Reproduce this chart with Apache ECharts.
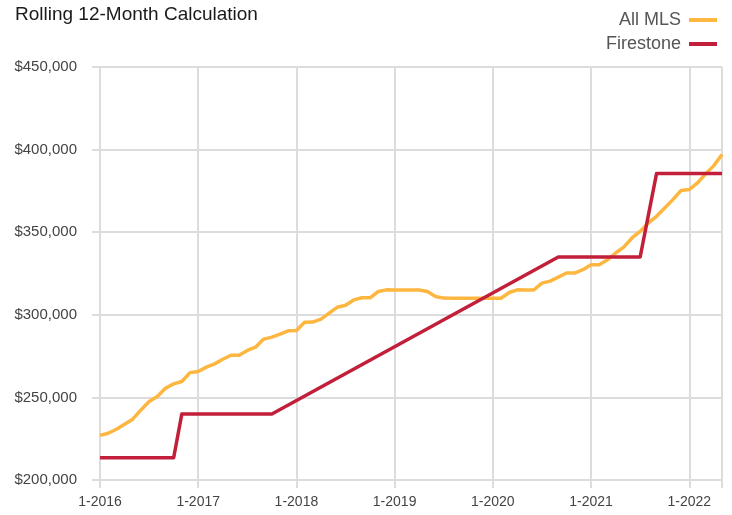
<!DOCTYPE html>
<html>
<head>
<meta charset="utf-8">
<script src="https://cdn.jsdelivr.net/npm/echarts@6/dist/echarts.min.js"></script>
<style>
html,body{margin:0;padding:0;background:#fff;}
#chart{width:732px;height:515px;}
</style>
</head>
<body>
<div id="chart"></div>
<script>
// Month index 0 = Jan 2016 ... 76 = May 2022
var xTickLabels = ['1-2016','1-2017','1-2018','1-2019','1-2020','1-2021','1-2022'];
var seriesNames = ['All MLS', 'Firestone'];

var mlsValues = [
  227000, 228300, 230700, 233700, 236800, 242400, 247500, 250500, 255500, 258200, 259600, 265000,
  265700, 268300, 270300, 273100, 275500, 275500, 278400, 280400, 285300, 286500, 288300, 290300,
  290500, 295500, 295600, 297400, 301000, 304600, 305800, 309000, 310300, 310300, 314100, 315100,
  315000, 315000, 315000, 315000, 314100, 311100, 310100, 310000, 310000, 310000, 310000, 310000,
  310000, 310000, 313500, 315100, 315000, 315000, 319200, 320400, 322800, 325300, 325300, 327300,
  330300, 330300, 333300, 337400, 341000, 346500, 350500, 355600, 359600, 364600, 369700, 375300,
  375800, 379800, 385300, 390300, 397000
];

var firestoneMonths = [0, 9, 10, 21, 56, 66, 68, 76];
var firestoneValues = [213500, 213500, 240000, 240000, 335000, 335000, 385500, 385500];

var FONT = '"Liberation Sans", Arial, sans-serif';
var gridColor = '#dcdcdc';

var chart = echarts.init(document.getElementById('chart'), null, {renderer: 'canvas'});
chart.setOption({
  animation: false,
  backgroundColor: '#ffffff',
  title: {
    text: 'Rolling 12-Month Calculation',
    left: 10,
    top: 0,
    textStyle: {fontFamily: FONT, fontSize: 19, fontWeight: 'normal', color: '#1a1a1a'}
  },
  legend: {
    orient: 'vertical',
    right: 10,
    top: 6,
    align: 'right',
    itemGap: 6,
    itemWidth: 28,
    itemHeight: 4,
    icon: 'rect',
    textStyle: {fontFamily: FONT, fontSize: 18, color: '#555555', padding: [0, 3, 0, 0]},
    data: seriesNames
  },
  grid: {left: 100, right: 10, top: 67, bottom: 35, containLabel: false},
  xAxis: {
    type: 'value',
    min: 0,
    max: mlsValues.length - 1,
    interval: 12,
    axisLine: {show: false},
    axisTick: {show: true, length: 8, lineStyle: {color: gridColor, width: 2}},
    splitLine: {show: true, lineStyle: {color: gridColor, width: 2}},
    axisLabel: {
      margin: 15,
      fontFamily: FONT, fontSize: 14, color: '#444444',
      formatter: function (v) { return (v % 12 === 0) ? (xTickLabels[v / 12] || '') : ''; }
    }
  },
  yAxis: {
    type: 'value',
    min: 200000,
    max: 450000,
    interval: 50000,
    axisLine: {show: false},
    axisTick: {show: true, length: 8, lineStyle: {color: gridColor, width: 2}},
    splitLine: {show: true, lineStyle: {color: gridColor, width: 2}},
    axisLabel: {
      margin: 23,
      fontFamily: FONT, fontSize: 15, color: '#444444',
      formatter: function (v) { return '$' + v.toLocaleString('en-US'); }
    }
  },
  series: [
    {
      name: seriesNames[0],
      type: 'line',
      symbol: 'none',
      color: '#FDB740',
      lineStyle: {width: 3.5, color: '#FDB740', join: 'round'},
      data: mlsValues.map(function (v, i) { return [i, v]; }),
      z: 2
    },
    {
      name: seriesNames[1],
      type: 'line',
      symbol: 'none',
      color: '#C11F3A',
      lineStyle: {width: 3.5, color: '#C11F3A', join: 'round'},
      data: firestoneMonths.map(function (m, i) { return [m, firestoneValues[i]]; }),
      z: 3
    }
  ]
});
</script>
</body>
</html>
